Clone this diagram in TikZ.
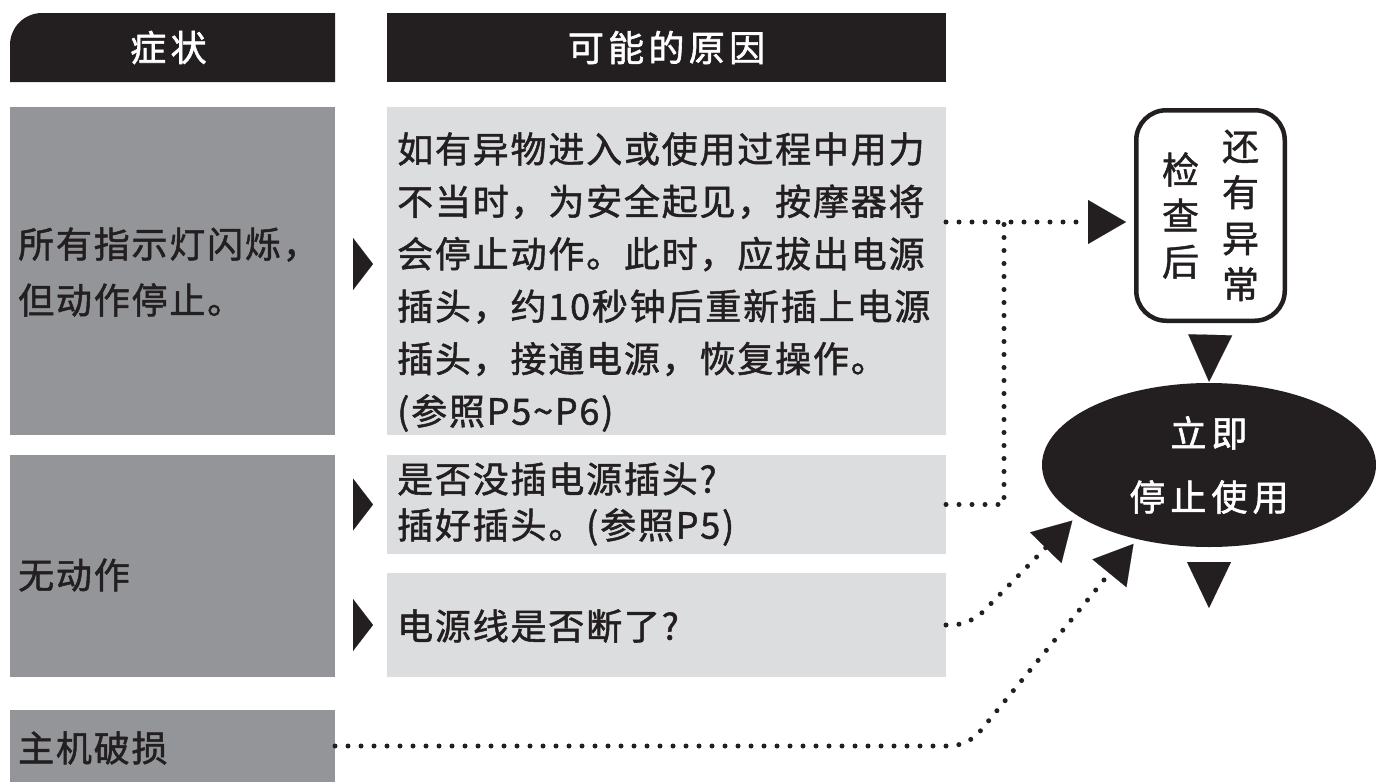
\documentclass[tikz,border=0pt]{standalone}
\usepackage{fontspec}
\setmainfont{Noto Sans CJK SC}[FakeBold=1.2]
\newfontfamily\bodyfont[LetterSpace=5,FakeBold=1.4]{Noto Sans CJK SC}
\newfontfamily\wideFont[LetterSpace=12,FakeBold=1.6]{Noto Sans CJK SC}
\newfontfamily\ellFont[LetterSpace=14,FakeBold=1.6]{Noto Sans CJK SC}
\usetikzlibrary{arrows.meta,shapes.geometric,calc}
\definecolor{hdr}{HTML}{231F20}
\definecolor{symgray}{HTML}{939598}
\definecolor{causegray}{HTML}{DCDDDF}
\begin{document}
\begin{tikzpicture}[x=1pt,y=-1pt,
  boxbase/.style={rectangle, inner sep=0pt, outer sep=0pt, draw=none, anchor=north west},
  symbox/.style={boxbase, fill=symgray},
  causebox/.style={boxbase, fill=causegray},
  hdrtext/.style={boxbase, text=white, font=\wideFont\fontsize{36}{40}\selectfont},
  txt/.style={inner sep=0pt, anchor=west, align=left, text=hdr},
  dotline/.style={draw=hdr, line width=5pt, line cap=round, dash pattern=on 0pt off 13pt},
  bigtip/.style={-{Triangle[length=38pt,width=44pt,line width=0.1pt]}},
  sidetip/.style={draw=hdr, line width=0.1pt, -{Triangle[length=20pt,width=52pt,line width=0.1pt]}},
]
\fill[white] (0,0) rectangle (1376,782);
\useasboundingbox (0,0) rectangle (1376,782);

% headers
\fill[hdr] (10,82) -- (10,45) arc[start angle=180, end angle=270, radius=32] -- (335,13) -- (335,82) -- cycle;
\node[hdrtext, minimum width=325pt, minimum height=69pt] (h1) at (6,13) {症状};
\node[hdrtext, fill=hdr, minimum width=559pt, minimum height=69pt] (h2) at (387,13) {可能的原因};

% symptom boxes
\node[symbox, minimum width=325pt, minimum height=328pt] (s1) at (10,107) {};
\node[symbox, minimum width=325pt, minimum height=222pt] (s2) at (10,455) {};
\node[symbox, minimum width=325pt, minimum height=72pt] (s3) at (10,710) {};

% cause boxes
\node[causebox, minimum width=559pt, minimum height=328pt] (c1) at (387,107) {};
\node[causebox, minimum width=559pt, minimum height=99pt] (c2) at (387,455) {};
\node[causebox, minimum width=559pt, minimum height=104pt] (c3) at (387,573) {};

% texts
\node[txt, font=\bodyfont\fontsize{36}{56}\selectfont] (ts1) at (18,272) {所有指示灯闪烁，\\但动作停止。};
\node[txt, font=\bodyfont\fontsize{36}{56}\selectfont] (ts2) at (18,575) {无动作};
\node[txt, font=\bodyfont\fontsize{36}{56}\selectfont] (ts3) at (18,748) {主机破损};
\node[txt, font=\bodyfont\fontsize{36}{52.4}\selectfont] (tc1) at (397,282) {如有异物进入或使用过程中用力\\不当时，为安全起见，按摩器将\\会停止动作。此时，应拔出电源\\插头，约10秒钟后重新插上电源\\插头，接通电源，恢复操作。\\(参照P5\textasciitilde P6)};
\node[txt, font=\bodyfont\fontsize{36}{46}\selectfont] (tc2) at (397,504) {是否没插电源插头?\\插好插头。(参照P5)};
\node[txt, font=\bodyfont\fontsize{36}{46}\selectfont] (tc3) at (397,626) {电源线是否断了?};

% check box and stop ellipse
\node[draw=hdr, line width=4.5pt, rounded corners=30pt, minimum width=148.5pt, minimum height=210.5pt, inner sep=0pt, text=hdr,
      font=\fontsize{37}{46}\selectfont] (chk) at (1210.5,215.5)
  {\raisebox{4pt}{\parbox[c]{38pt}{\centering 检\\查\\后}}\hspace{22pt}\raisebox{4pt}{\parbox[c]{38pt}{\centering 还\\有\\异\\常}}\hspace{20pt}};
\node[ellipse, fill=hdr, minimum width=334pt, minimum height=164pt, inner sep=0pt, text=white, align=center,
      font=\ellFont\fontsize{36}{64}\selectfont] (stop) at (1209,465) {立即\\停止使用};

% side triangles
\draw[sidetip, shorten <=18pt, shorten >=14pt] ($(s1.east |- c1.west)+(0,-7)$) -- ($(c1.west)+(0,-7)$);
\draw[sidetip, shorten <=18pt, shorten >=14pt] (s2.east |- c2.west) -- (c2.west);
\draw[sidetip, shorten <=18pt, shorten >=14pt] (s2.east |- c3.west) -- (c3.west);

% dotted connectors
\coordinate (j) at (1004,222);
\draw[dotline] (c2.east) -| (j);
\draw[dotline, bigtip, shorten >=8pt] (c1.east |- j) -- (chk.west |- j);
\draw[dotline, bigtip, rounded corners=18pt, shorten >=7pt] (c3.east) -- ++(24,0) -- (stop.201);
\draw[dotline, bigtip, rounded corners=18pt, shorten >=6pt] (s3.east) -- ++(633,0) -- (stop.226);

% down triangles
\draw[draw=hdr, line width=0.1pt, -{Triangle[length=47pt,width=44pt,line width=0.1pt]}, shorten <=14pt, shorten >=1pt] (chk.south) -- (stop.north);
\fill[hdr] ($(stop.south)+(-22,15)$) -- ($(stop.south)+(22,15)$) -- ($(stop.south)+(0,61)$) -- cycle;
\end{tikzpicture}
\end{document}
